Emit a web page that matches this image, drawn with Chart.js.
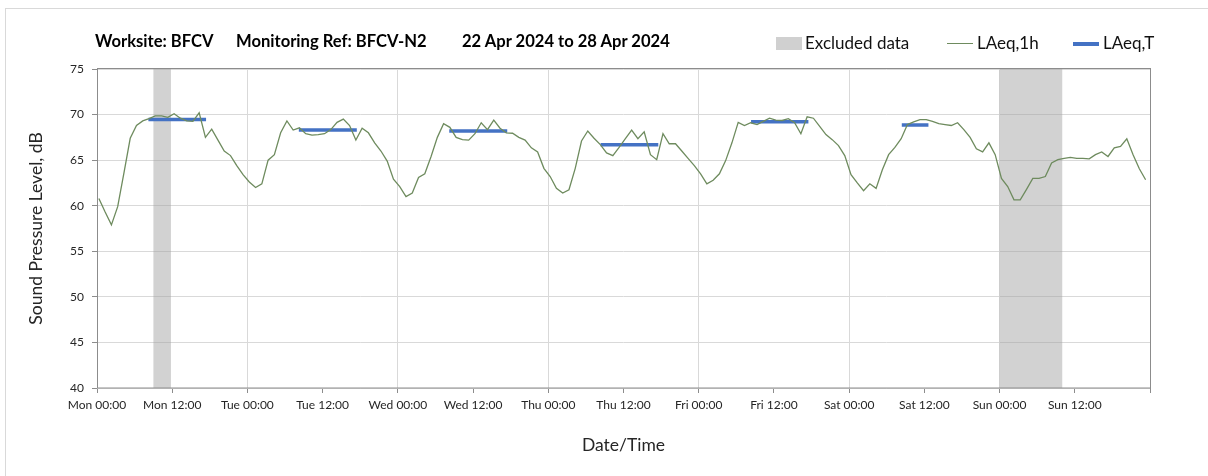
<!DOCTYPE html>
<html>
<head>
<meta charset="utf-8">
<script src="https://cdn.jsdelivr.net/npm/chart.js@4.4.1/dist/chart.umd.min.js"></script>
<style>
  body { margin: 0; background: #fff; font-family: Lato, "Open Sans", sans-serif; color: #000; }
  #wrap { position: relative; width: 1208px; height: 476px; overflow: hidden; }
  #frame { position: absolute; left: 5px; top: 8px; width: 1300px; height: 600px; border: 1px solid #d9d9d9; }
  #chart { position: absolute; left: 0; top: 0; }
  .title { position: absolute; top: 31px; font-weight: bold; font-size: 16.6px; white-space: nowrap; }
  .legend { position: absolute; top: 32px; font-size: 17px; white-space: nowrap; color: #111; }
  .swatch { position: absolute; }
</style>
</head>
<body>
<div id="wrap">
  <div id="frame"></div>
  <canvas id="chart" width="1208" height="476"></canvas>
  <div class="title" style="left:95px">Worksite: BFCV</div>
  <div class="title" style="left:236px">Monitoring Ref: BFCV-N2</div>
  <div class="title" style="left:462px">22 Apr 2024 to 28 Apr 2024</div>

  <div class="swatch" style="left:776px;top:37px;width:26px;height:13px;background:#d0d0d0"></div>
  <div class="legend" style="left:805px">Excluded data</div>
  <div class="swatch" style="left:947px;top:43px;width:26px;height:1.3px;background:#6e8b5e"></div>
  <div class="legend" style="left:977px">LAeq,1h</div>
  <div class="swatch" style="left:1073px;top:42px;width:26px;height:3.5px;background:#4472c4"></div>
  <div class="legend" style="left:1103px">LAeq,T</div>
</div>

<script>
// hourly LAeq,1h values, one array per day, 00:00 .. 23:00
const mon = [60.8, 59.3, 57.9, 59.9, 63.6, 67.4, 68.8, 69.3, 69.55, 69.85, 69.85, 69.7,
             70.1, 69.6, 69.3, 69.25, 70.2, 67.5, 68.4, 67.2, 66.0, 65.5, 64.4, 63.4];
const tue = [62.6, 62.0, 62.4, 65.0, 65.6, 68.0, 69.3, 68.3, 68.55, 67.9, 67.75, 67.8,
             67.9, 68.35, 69.15, 69.5, 68.8, 67.2, 68.5, 68.0, 66.9, 66.0, 64.9, 62.9];
const wed = [62.1, 61.0, 61.4, 63.1, 63.5, 65.4, 67.5, 69.0, 68.6, 67.5, 67.25, 67.2,
             67.9, 69.1, 68.35, 69.4, 68.5, 68.0, 67.95, 67.5, 67.2, 66.35, 65.9, 64.1];
const thu = [63.2, 61.9, 61.4, 61.75, 64.1, 67.1, 68.2, 67.4, 66.7, 65.8, 65.5, 66.4,
             67.35, 68.3, 67.35, 68.1, 65.6, 65.05, 67.9, 66.8, 66.8, 66.0, 65.2, 64.4];
const fri = [63.5, 62.4, 62.8, 63.5, 64.95, 66.9, 69.15, 68.8, 69.1, 68.9, 69.25, 69.6,
             69.4, 69.35, 69.55, 69.1, 67.9, 69.75, 69.6, 68.7, 67.8, 67.25, 66.6, 65.5];
const sat = [63.4, 62.5, 61.65, 62.4, 61.9, 63.95, 65.6, 66.4, 67.35, 68.9, 69.2, 69.45,
             69.45, 69.25, 69.0, 68.9, 68.8, 69.1, 68.35, 67.5, 66.25, 65.9, 66.9, 65.6];
const sun = [63.0, 62.1, 60.65, 60.65, 61.8, 63.0, 63.0, 63.2, 64.7, 65.05, 65.2, 65.3,
             65.2, 65.2, 65.15, 65.6, 65.9, 65.4, 66.35, 66.5, 67.35, 65.6, 64.05, 62.85];

// LAeq,T periods (hours from Mon 00:00)
const periodStart = [8.2, 32.2, 56.2, 80.35, 104.35, 128.4];
const periodEnd   = [17.4, 41.45, 65.45, 89.55, 113.5, 132.65];
const periodLevel = [69.45, 68.3, 68.2, 66.7, 69.2, 68.85];

// excluded data windows (hours from Mon 00:00)
const excludedFrom = [9, 144];
const excludedTo   = [11.8, 154];

const tickLabels = ['Mon 00:00', 'Mon 12:00', 'Tue 00:00', 'Tue 12:00', 'Wed 00:00', 'Wed 12:00',
  'Thu 00:00', 'Thu 12:00', 'Fri 00:00', 'Fri 12:00', 'Sat 00:00', 'Sat 12:00',
  'Sun 00:00', 'Sun 12:00', ''];

const hourly = [...mon, ...tue, ...wed, ...thu, ...fri, ...sat, ...sun];
const hourlyPoints = hourly.map((v, i) => ({ x: i + 0.3, y: v }));

const periodPoints = [];
periodStart.forEach((s, i) => {
  periodPoints.push({ x: s, y: periodLevel[i] });
  periodPoints.push({ x: periodEnd[i], y: periodLevel[i] });
  periodPoints.push({ x: periodEnd[i] + 0.01, y: null });
});

const FONT = 'Lato, "Open Sans", sans-serif';

const excludedPlugin = {
  id: 'excluded',
  beforeDatasetsDraw(chart) {
    const { ctx, chartArea: a, scales: { x } } = chart;
    ctx.save();
    ctx.fillStyle = 'rgba(160,160,160,0.48)';
    excludedFrom.forEach((s, i) => {
      const x0 = x.getPixelForValue(s);
      const x1 = x.getPixelForValue(excludedTo[i]);
      ctx.fillRect(x0, a.top, x1 - x0, a.bottom - a.top);
    });
    ctx.restore();
  },
  afterDatasetsDraw(chart) {
    const { ctx, chartArea: a } = chart;
    ctx.save();
    ctx.strokeStyle = '#8c8c8c';
    ctx.lineWidth = 1;
    ctx.strokeRect(Math.round(a.left) + 0.5, Math.round(a.top) - 0.5,
      Math.round(a.right - a.left), Math.round(a.bottom - a.top) + 0.5);
    ctx.restore();
  }
};

new Chart(document.getElementById('chart'), {
  type: 'line',
  data: {
    datasets: [
      {
        label: 'LAeq,1h',
        data: hourlyPoints,
        borderColor: '#6e8b5e',
        borderWidth: 1.3,
        pointRadius: 0,
        tension: 0
      },
      {
        label: 'LAeq,T',
        data: periodPoints,
        borderColor: '#4472c4',
        borderWidth: 3.5,
        borderCapStyle: 'butt',
        pointRadius: 0,
        spanGaps: false
      }
    ]
  },
  options: {
    responsive: false,
    animation: false,
    devicePixelRatio: 1,
    layout: { padding: { top: 69, right: 58, left: 0, bottom: 0 } },
    plugins: { legend: { display: false }, tooltip: { enabled: false } },
    scales: {
      x: {
        type: 'linear',
        min: 0,
        max: 168,
        afterFit: s => { s.height = 88; },
        border: { display: false },
        grid: {
          color: c => (c.tick && c.tick.value % 24 === 0) ? '#d9d9d9' : 'rgba(0,0,0,0)',
          tickColor: '#8c8c8c',
          tickLength: 5
        },
        ticks: {
          stepSize: 12,
          autoSkip: false,
          maxRotation: 0,
          padding: 5,
          color: '#262626',
          font: { family: FONT, size: 12 },
          callback: v => tickLabels[Math.round(v / 12)]
        },
        title: {
          display: true,
          text: 'Date/Time',
          color: '#262626',
          font: { family: FONT, size: 17.5 },
          padding: { top: 0, bottom: 20 }
        }
      },
      y: {
        min: 40,
        max: 75,
        afterFit: s => { s.width = 97; },
        border: { display: false },
        grid: { color: '#d9d9d9', tickColor: '#8c8c8c', tickLength: 5 },
        ticks: {
          stepSize: 5,
          padding: 8,
          color: '#262626',
          font: { family: FONT, size: 12 }
        },
        title: {
          display: true,
          text: 'Sound Pressure Level, dB',
          color: '#262626',
          font: { family: FONT, size: 17.5 },
          padding: { top: 26, bottom: 0 }
        }
      }
    }
  },
  plugins: [excludedPlugin]
});
</script>
</body>
</html>
